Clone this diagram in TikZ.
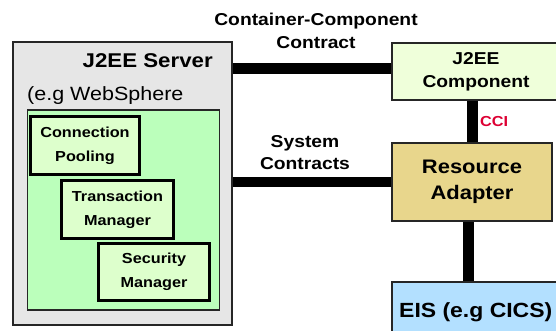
\documentclass[tikz,border=0pt]{standalone}
\usepackage{fontspec}
\setmainfont{Liberation Sans}[FakeStretch=1.12]
\definecolor{servergray}{HTML}{E6E6E6}
\definecolor{poolgreen}{HTML}{BBFFBB}
\definecolor{modfill}{HTML}{DDFFCC}
\definecolor{compfill}{HTML}{EFFFDA}
\definecolor{rafill}{HTML}{E8D68C}
\definecolor{eisfill}{HTML}{B3E0FF}
\definecolor{ccired}{HTML}{DD0033}
\begin{document}
\begin{tikzpicture}[x=1pt,y=-1pt,
  frame/.style={draw=black!85, line width=2pt, inner sep=0pt, anchor=north west},
  module/.style={draw=black, line width=3pt, fill=modfill, inner sep=0pt,
    anchor=north west, align=center, font=\bfseries\fontsize{14.5}{24}\selectfont},
  link/.style={draw=black, line width=10.5pt},
  lbl/.style={inner sep=0pt, align=center, font=\bfseries\fontsize{17.2}{23}\selectfont}]
\useasboundingbox (0,0) rectangle (556,331);
\clip (0,0) rectangle (556,331);

% application server and its services
\node[frame, fill=servergray, minimum width=219pt, minimum height=283pt] (server) at (12,41) {};
\node[inner sep=0pt, anchor=base east, font=\bfseries\fontsize{19.9}{24}\selectfont] (srvname) at (213,68) {J2EE Server};
\node[inner sep=0pt, anchor=base west, font=\fontsize{19.2}{24}\selectfont] (srvex) at (27,101) {(e.g WebSphere};
\node[draw=black!85, line width=1.6pt, fill=poolgreen, inner sep=0pt, anchor=north west,
  minimum width=192pt, minimum height=200pt] (services) at (26.5,109) {};
\node[module, minimum width=109pt, minimum height=58pt] (pool) at (29,115) {Connection\\Pooling};
\node[module, minimum width=112pt, minimum height=58pt] (tx) at (60,179) {Transaction\\Manager};
\node[module, minimum width=111pt, minimum height=57pt] (sec) at (97,242) {Security\\Manager};

% component, adapter and enterprise system
\node[frame, fill=compfill, minimum width=168pt, minimum height=57pt, align=center,
  font=\bfseries\fontsize{17.2}{23}\selectfont] (comp) at (391,42) {J2EE\\Component};
\node[frame, fill=rafill, minimum width=160pt, minimum height=78pt, align=center,
  font=\bfseries\fontsize{19.6}{26}\selectfont] (ra) at (391,142) {Resource\\Adapter};
\node[frame, fill=eisfill, minimum width=168pt, minimum height=60pt] (eis) at (391,281) {};
\node[inner sep=0pt, anchor=base west, font=\bfseries\fontsize{20.5}{24}\selectfont] (eistext) at (399,317) {EIS (e.g CICS)};

% contracts
\draw[link] ([yshift=3pt]comp.west) -- ([yshift=3pt]comp.west -| server.east);
\draw[link] (ra.west) -- (ra.west -| server.east);
\draw[link] ([xshift=-3.5pt]comp.south) -- ([xshift=-3.5pt]comp.south |- ra.north);
\draw[link] ([xshift=-3.5pt]ra.south) -- ([xshift=-3.5pt]ra.south |- eis.north);

\node[lbl] (cclabel) at (316,31) {Container-Component\\Contract};
\node[lbl, font=\bfseries\fontsize{17.2}{22}\selectfont] (syslabel) at (305,153) {System\\Contracts};
\node[inner sep=0pt, anchor=west, text=ccired, font=\bfseries\fontsize{14.5}{18}\selectfont] (cci) at (480,122) {CCI};
\end{tikzpicture}
\end{document}
